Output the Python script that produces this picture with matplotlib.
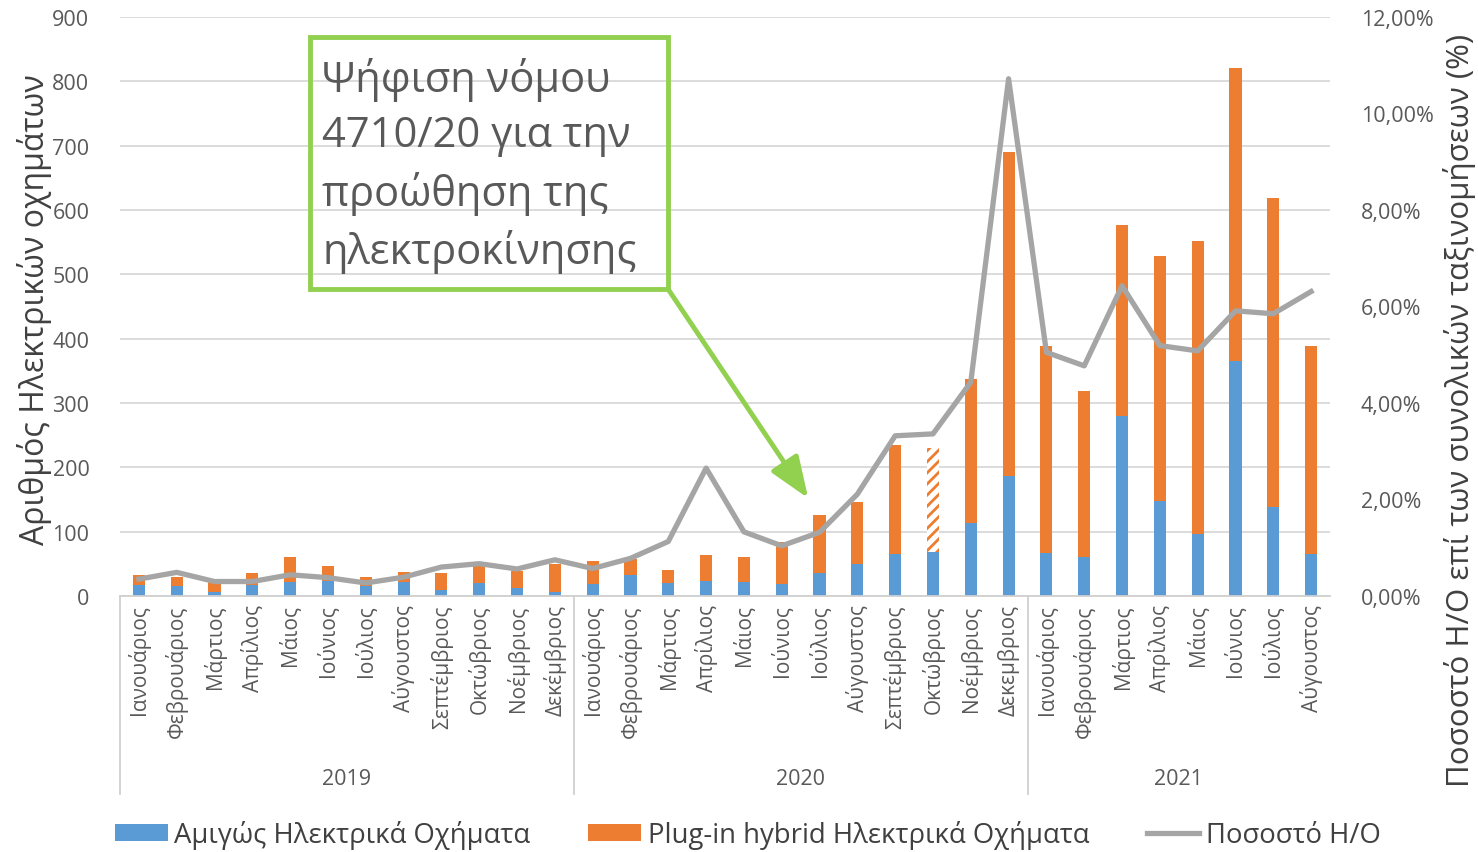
import matplotlib.pyplot as plt
import matplotlib.transforms as mtransforms
from matplotlib.ticker import FuncFormatter

plt.rcParams['font.family'] = ['Open Sans', 'DejaVu Sans']
plt.rcParams['hatch.linewidth'] = 2.0

months = ["Ιανουάριος", "Φεβρουάριος", "Μάρτιος", "Απρίλιος", "Μάιος", "Ιούνιος",
          "Ιούλιος", "Αύγουστος", "Σεπτέμβριος", "Οκτώβριος", "Νοέμβριος", "Δεκέμβριος"]
months_2020 = months[:11] + ["Δεκεμβριος"]
labels = months + months_2020 + months[:8]
years = ["2019", "2020", "2021"]
year_len = [12, 12, 8]

# pure electric (blue) and totals (blue + plug-in)
bev = [17, 15, 6, 17, 21, 23, 16, 21, 10, 20, 12, 6,
       18, 33, 20, 24, 21, 19, 35, 49, 65, 68, 113, 186,
       67, 60, 280, 148, 96, 365, 138, 66]
total = [32, 29, 27, 36, 60, 47, 30, 37, 35, 48, 39, 49,
         55, 57, 41, 64, 60, 84, 126, 146, 235, 230, 338, 690,
         389, 318, 577, 529, 552, 820, 619, 389]
phev = [t - b for t, b in zip(total, bev)]
# share of EVs in total registrations (%)
share = [0.35, 0.49, 0.30, 0.30, 0.44, 0.38, 0.27, 0.39, 0.60, 0.67, 0.56, 0.75,
         0.57, 0.78, 1.13, 2.65, 1.33, 1.04, 1.32, 2.11, 3.32, 3.36, 4.43, 10.72,
         5.05, 4.77, 6.43, 5.19, 5.08, 5.91, 5.85, 6.31]
hatched = 21  # Oct 2020 plug-in bar drawn striped

blue = '#5B9BD5'
orange = '#ED7D31'
grey = '#A5A5A5'
green = '#92D050'
txt = '#595959'

fig = plt.figure(figsize=(14.78, 8.53), dpi=100)
ax = fig.add_axes([120 / 1478, 1 - 597 / 853, 1210 / 1478, 579 / 853])
x = list(range(len(labels)))
w = 0.32

ax.bar(x, bev, w, color=blue, zorder=2, label='Αμιγώς Ηλεκτρικά Οχήματα')
for i in x:
    if i == hatched:
        ax.bar(i, phev[i], w, bottom=bev[i], facecolor='white', edgecolor=orange,
               hatch='///', linewidth=0, zorder=2)
    else:
        ax.bar(i, phev[i], w, bottom=bev[i], color=orange, zorder=2,
               label='Plug-in hybrid Ηλεκτρικά Οχήματα' if i == 0 else None)

ax.set_xlim(-0.5, len(labels) - 0.5)
ax.set_ylim(0, 900)
ax.set_yticks(range(0, 901, 100))
ax.grid(axis='y', color='#d9d9d9', linewidth=1.3, zorder=0)
for s in ['top', 'right', 'left']:
    ax.spines[s].set_visible(False)
ax.spines['bottom'].set_color('#d0d0d0')
ax.spines['bottom'].set_linewidth(1.3)
ax.tick_params(axis='y', length=0, labelsize=15.5, labelcolor=txt, pad=22)
ax.set_xticks(x)
ax.set_xticklabels(labels, rotation=90, fontsize=15, color=txt)
ax.tick_params(axis='x', length=0, pad=6)

# year groups
tr = mtransforms.blended_transform_factory(ax.transData, ax.transAxes)
start = 0
for y, n in zip(years, year_len):
    ax.plot([start - 0.5, start - 0.5], [0, -0.342], color='#d0d0d0', lw=1.3,
            transform=tr, clip_on=False)
    ax.text(start + (n - 1) / 2, -0.315, y, transform=tr, ha='center', va='center',
            fontsize=15.5, color=txt)
    start += n

ax2 = ax.twinx()
ax2.plot(x, share, color=grey, lw=3.8, zorder=3, label='Ποσοστό Η/Ο')
ax2.set_ylim(0, 12)
ax2.set_yticks(range(0, 13, 2))
ax2.yaxis.set_major_formatter(FuncFormatter(lambda v, p: f"{v:.2f}%".replace('.', ',')))
for s in ax2.spines.values():
    s.set_visible(False)
ax2.tick_params(axis='y', length=0, labelsize=15.5, labelcolor=txt, pad=22)

# axis titles
fig.text(35 / 1478, 1 - 310 / 853, 'Αριθμός Ηλεκτρικών οχημάτων', rotation=90,
         fontsize=23, color='#404040', ha='center', va='center')
fig.text(1460 / 1478, 1 - 410 / 853, 'Ποσοστό Η/Ο επί των συνολικών ταξινομήσεων (%)',
         rotation=90, fontsize=22.5, color='#404040', ha='center', va='center')

# annotation box and arrow
fig.text(322 / 1478, 1 - 166 / 853, 'Ψήφιση νόμου\n4710/20 για την\nπροώθηση της\nηλεκτροκίνησης',
         fontsize=30, color=txt, ha='left', va='center', linespacing=1.42)
fig.patches.append(plt.Rectangle((310 / 1478, 1 - 290 / 853), 358 / 1478, 252 / 853,
                                 transform=fig.transFigure, fill=False,
                                 edgecolor=green, linewidth=3.5))
ax.annotate('', xy=(17.7, 152), xycoords='data',
            xytext=(668 / 1478, 1 - 290 / 853), textcoords='figure fraction',
            arrowprops=dict(arrowstyle='-|>,head_length=0.9,head_width=0.35', color=green,
                            lw=3.5, mutation_scale=28, shrinkA=0, shrinkB=0))

h1, l1 = ax.get_legend_handles_labels()
h2, l2 = ax2.get_legend_handles_labels()
fig.legend(h1 + h2, l1 + l2, loc='center', bbox_to_anchor=(748 / 1478, 1 - 836 / 853),
           ncol=3, frameon=False, fontsize=19.8, labelcolor='#404040',
           handlelength=1.9, handleheight=0.55, handletextpad=0.25, columnspacing=2.1)

fig.savefig('out.png', dpi=100)
